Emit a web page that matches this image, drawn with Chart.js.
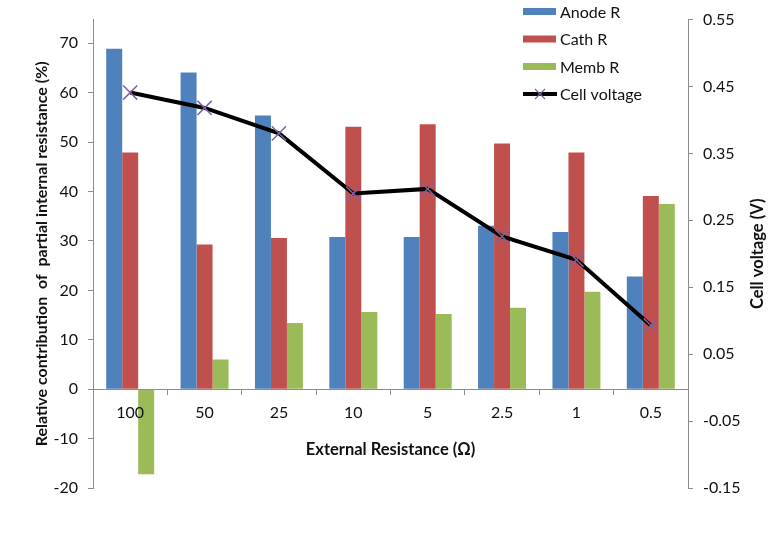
<!DOCTYPE html>
<html>
<head>
<meta charset="utf-8">
<script src="https://cdn.jsdelivr.net/npm/chart.js@4"></script>
<style>
  html, body { margin: 0; padding: 0; background: #fff; }
  canvas { display: block; }
</style>
</head>
<body>
<canvas id="chart" width="777" height="541"></canvas>
<script>
const categories = ['100', '50', '25', '10', '5', '2.5', '1', '0.5'];
const anodeR = [68.9, 64.1, 55.4, 30.8, 30.8, 33.1, 31.8, 22.8];
const cathR = [47.9, 29.3, 30.6, 53.1, 53.6, 49.7, 47.9, 39.1];
const membR = [-17.2, 6.0, 13.4, 15.6, 15.2, 16.5, 19.7, 37.5];
const cellVoltage = [0.441, 0.418, 0.380, 0.290, 0.297, 0.226, 0.191, 0.093];

const legendLabels = ['Anode R', 'Cath R', 'Memb R', 'Cell voltage'];
const barColors = ['#4F81BD', '#C0504D', '#9BBB59'];
const markerColor = '#7F63A0';
const axisColor = '#8C8C8C';
const FONT = 'Lato, "Open Sans", sans-serif';

// legend drawn inside the plot, top right, like the excel one
const sideLegend = {
    id: 'sideLegend',
    afterDraw(chart) {
        const ctx = chart.ctx;
        ctx.save();
        ctx.font = '16px ' + FONT;
        ctx.textBaseline = 'middle';
        legendLabels.forEach((label, i) => {
            const y = 11.5 + i * 27.5;
            if (i < 3) {
                ctx.fillStyle = barColors[i];
                ctx.fillRect(523, y - 3.5, 33, 7);
            } else {
                ctx.strokeStyle = '#000';
                ctx.lineWidth = 4;
                ctx.beginPath();
                ctx.moveTo(523, y);
                ctx.lineTo(557, y);
                ctx.stroke();
                ctx.strokeStyle = markerColor;
                ctx.lineWidth = 1.2;
                ctx.beginPath();
                ctx.moveTo(535, y - 5); ctx.lineTo(545, y + 5);
                ctx.moveTo(545, y - 5); ctx.lineTo(535, y + 5);
                ctx.stroke();
            }
            ctx.fillStyle = '#111';
            ctx.fillText(label, 560, y + 1);
        });
        // right axis title reads bottom to top
        const area = chart.chartArea;
        ctx.translate(758, (area.top + area.bottom) / 2);
        ctx.rotate(-Math.PI / 2);
        ctx.font = 'bold 16.5px ' + FONT;
        ctx.textAlign = 'center';
        ctx.fillText('Cell voltage (V)', 0, 0);
        ctx.restore();
    }
};

const ctx = document.getElementById('chart');
new Chart(ctx, {
    type: 'bar',
    data: {
        labels: categories,
        datasets: [
            { type: 'line', label: 'Cell voltage', data: cellVoltage, yAxisID: 'y1', order: 0,
              borderColor: '#000', borderWidth: 4, tension: 0, fill: false,
              pointStyle: 'crossRot', pointRadius: 10, pointBorderColor: markerColor,
              pointBorderWidth: 1.5, pointBackgroundColor: 'rgba(0,0,0,0)' },
            { label: 'Anode R', data: anodeR, backgroundColor: barColors[0], yAxisID: 'y', order: 1 },
            { label: 'Cath R', data: cathR, backgroundColor: barColors[1], yAxisID: 'y', order: 1 },
            { label: 'Memb R', data: membR, backgroundColor: barColors[2], yAxisID: 'y', order: 1 }
        ]
    },
    options: {
        responsive: false,
        animation: false,
        devicePixelRatio: 1,
        categoryPercentage: 0.645,
        barPercentage: 1,
        layout: { padding: { top: 14, bottom: 53, left: 0, right: 0 } },
        plugins: { legend: { display: false }, tooltip: { enabled: false } },
        scales: {
            x: {
                position: { y: 0 },
                grid: { drawOnChartArea: false, drawTicks: true, tickLength: 5, color: axisColor, offset: true },
                border: { color: axisColor },
                ticks: { z: 1, color: '#111', padding: 9, font: { family: FONT, size: 16 } },
                title: { display: true, text: 'External Resistance (\u03A9)', color: '#111',
                         padding: { top: 8, bottom: 0 }, font: { family: FONT, size: 16.5, weight: 'bold' } }
            },
            y: {
                position: 'left',
                min: -20,
                max: 74.8,
                grid: { drawOnChartArea: false, tickLength: 5, color: axisColor },
                border: { color: axisColor },
                ticks: { stepSize: 10, includeBounds: false, color: '#111', padding: 10,
                         font: { family: FONT, size: 16 } },
                title: { display: true, text: 'Relative contribution  of  partial internal resistance (%)',
                         color: '#111', padding: { top: 32, bottom: 0 },
                         font: { family: FONT, size: 16, weight: 'bold' } },
                afterFit(scale) { scale.width = 93; }
            },
            y1: {
                position: 'right',
                min: -0.15,
                max: 0.55,
                grid: { drawOnChartArea: false, tickLength: 5, color: axisColor },
                border: { color: axisColor },
                ticks: { stepSize: 0.1, color: '#111', padding: 10,
                         font: { family: FONT, size: 16 },
                         callback: v => v.toFixed(2) },
                afterFit(scale) { scale.width = 89; }
            }
        }
    },
    plugins: [sideLegend]
});
</script>
</body>
</html>
